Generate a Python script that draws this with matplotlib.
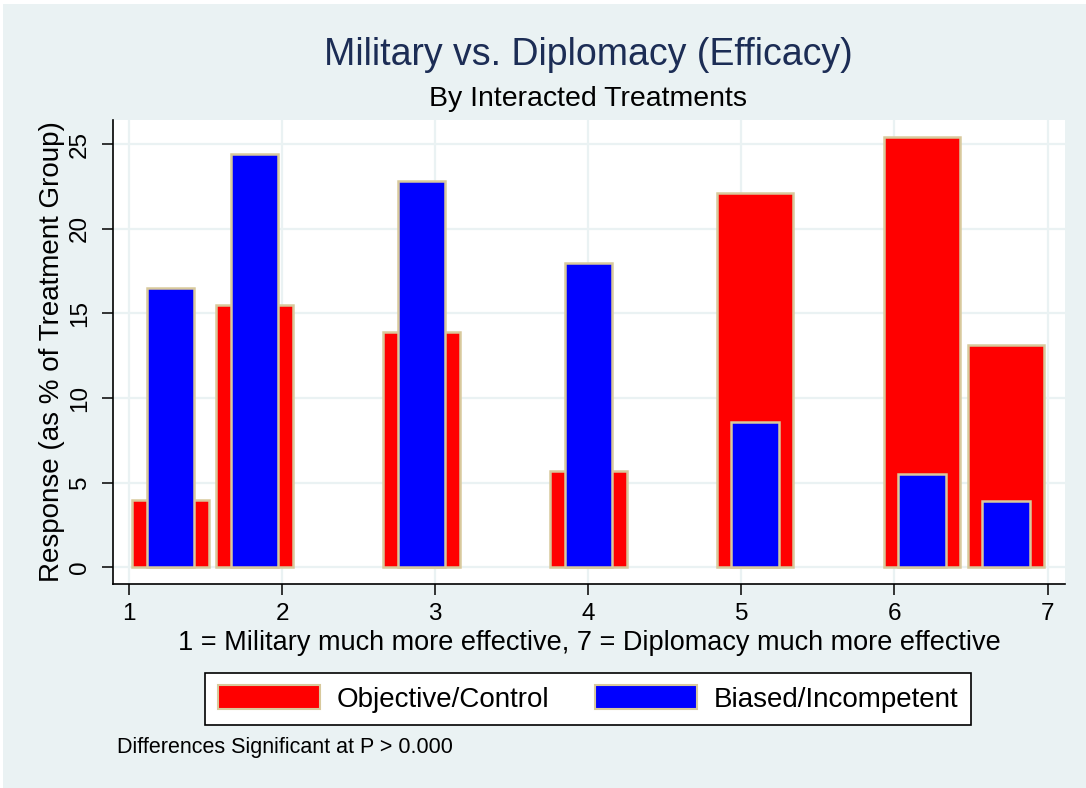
import numpy as np
import matplotlib.pyplot as plt
from matplotlib.patches import Rectangle, Patch

plt.rcParams['font.family'] = ['Liberation Sans', 'DejaVu Sans']

# response scale (bin midpoints): 1 = military ... 7 = diplomacy
response = [1.27, 1.82, 2.91, 4.00, 5.09, 6.18, 6.73]
# percent of treatment group
objective_pct = [4.0, 15.5, 13.9, 5.7, 22.1, 25.4, 13.1]
biased_pct = [16.5, 24.4, 22.8, 18.0, 8.6, 5.5, 3.9]

xticks = [1, 2, 3, 4, 5, 6, 7]
yticks = [0, 5, 10, 15, 20, 25]

bg = '#EAF2F3'
edge = '#D8C99C'

fig = plt.figure(figsize=(10.86, 7.88), dpi=100, facecolor='white')
fig.patches.append(Rectangle((3 / 1086, 0), 1, 1 - 4 / 788, transform=fig.transFigure,
                             facecolor=bg, edgecolor='none', zorder=-10))

ax = fig.add_axes([113 / 1086, 1 - 584 / 788, 952 / 1086, 464 / 788])
ax.set_facecolor('white')

ax.bar(response, objective_pct, width=0.50, color='#FF0000', edgecolor=edge, linewidth=1.8, zorder=2)
ax.bar(response, biased_pct, width=0.31, color='#0000FF', edgecolor=edge, linewidth=1.8, zorder=3)

ax.set_xlim(0.8955, 7.114)
ax.set_ylim(-0.99, 26.42)
ax.set_xticks(xticks)
ax.set_yticks(yticks)
ax.grid(True, color=bg, linewidth=1.6)
ax.set_axisbelow(True)

for s in ['top', 'right']:
    ax.spines[s].set_visible(False)
for s in ['left', 'bottom']:
    ax.spines[s].set_linewidth(1.2)

ax.tick_params(axis='both', length=8, width=1.1, labelsize=17.5, color='black')
ax.tick_params(axis='y', labelrotation=90, pad=8)
ax.tick_params(axis='x', pad=6)
for lab in ax.get_yticklabels():
    lab.set_va('center')

ax.set_ylabel('Response (as % of Treatment Group)', fontsize=20, va='center')
ax.yaxis.set_label_coords(-0.064, 0.5)
ax.set_xlabel('1 = Military much more effective, 7 = Diplomacy much more effective', fontsize=19.5, va='center')
ax.xaxis.set_label_coords(0.5, -0.127)

fig.text(588 / 1086, 1 - 55 / 788, 'Military vs. Diplomacy (Efficacy)', fontsize=27,
         color='#1C2D55', ha='center', va='center')
fig.text(588 / 1086, 1 - 99 / 788, 'By Interacted Treatments', fontsize=20.5,
         ha='center', va='center')

handles = [Patch(facecolor='#FF0000', edgecolor=edge, linewidth=1.5, label='Objective/Control'),
           Patch(facecolor='#0000FF', edgecolor=edge, linewidth=1.5, label='Biased/Incompetent')]
leg = fig.legend(handles=handles, loc='center', bbox_to_anchor=(588 / 1086, 1 - 699 / 788), ncol=2,
                 fontsize=20, frameon=True, fancybox=False, edgecolor='black', facecolor='white',
                 framealpha=1, handlelength=3.67, handleheight=0.9, handletextpad=0.6,
                 columnspacing=1.65, borderpad=0.45)
leg.get_frame().set_linewidth(1.2)

fig.text(117 / 1086, 1 - 747 / 788, 'Differences Significant at P > 0.000', fontsize=15.5,
         ha='left', va='center')

fig.savefig('out.png', dpi=100, facecolor=fig.get_facecolor())
